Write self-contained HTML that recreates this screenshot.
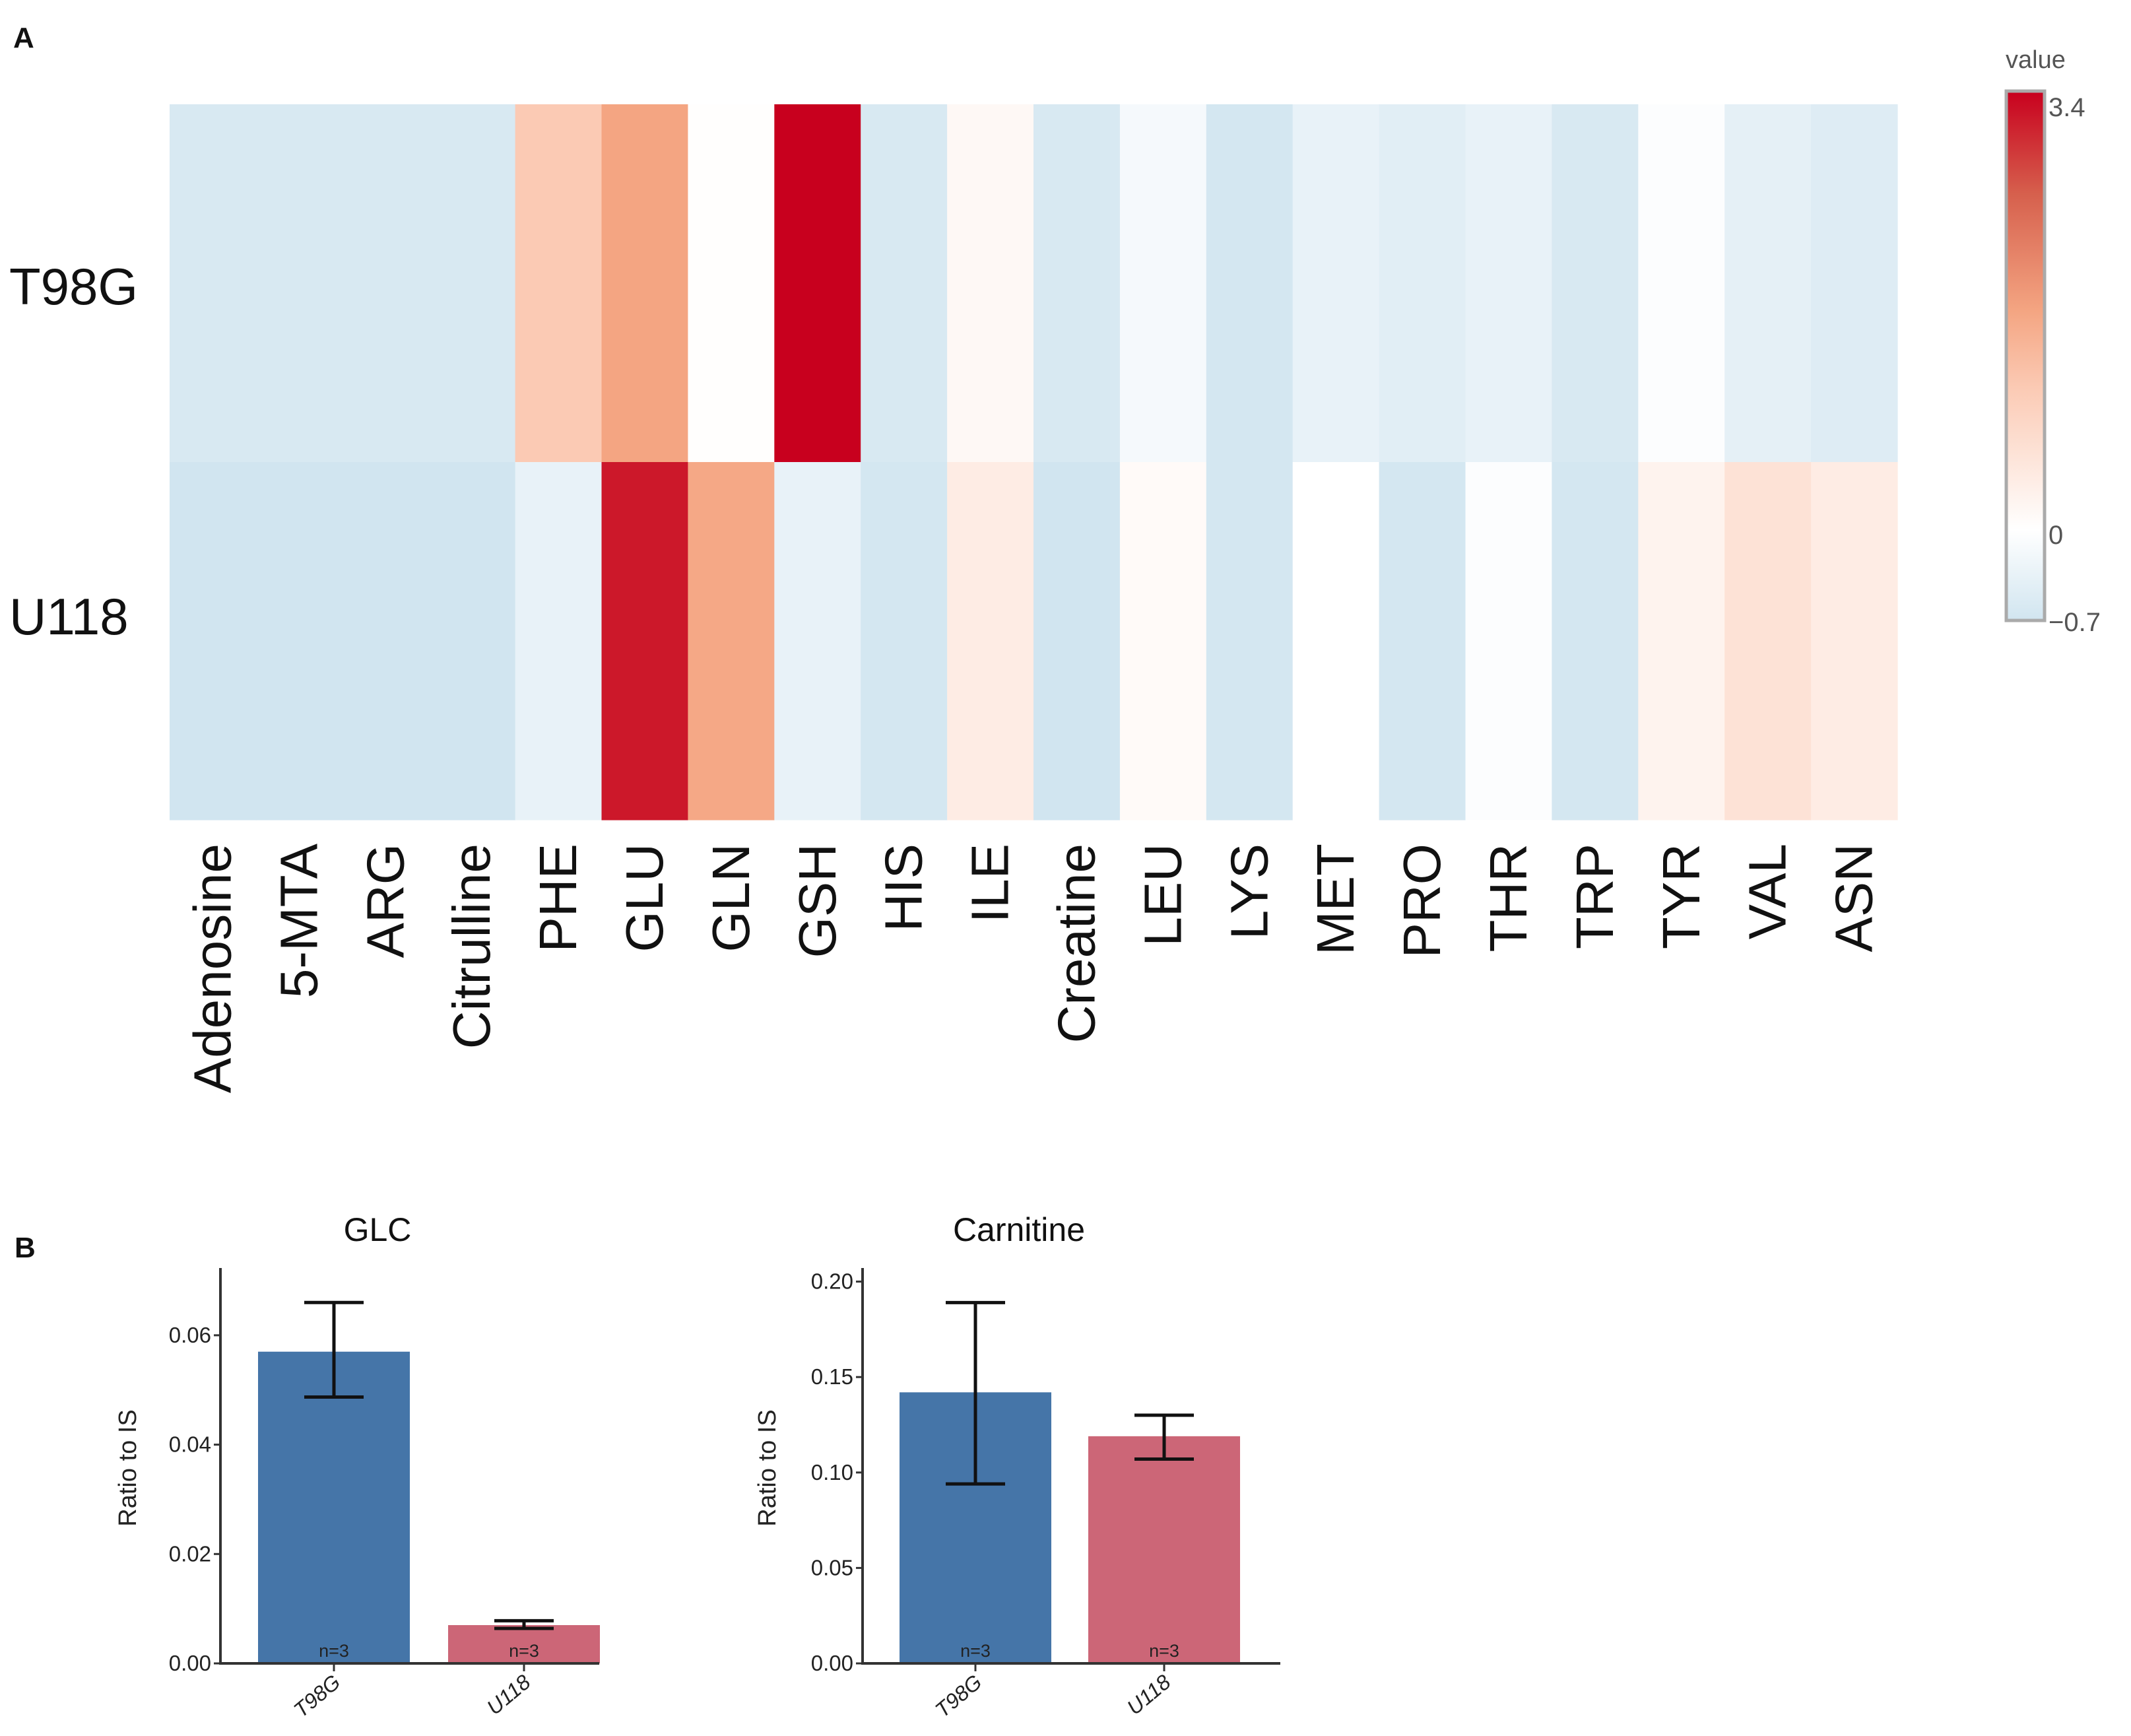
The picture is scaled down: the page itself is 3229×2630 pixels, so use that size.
<!DOCTYPE html>
<html><head><meta charset="utf-8"><style>
html,body{margin:0;padding:0;background:#fff;}
svg{display:block;font-family:"Liberation Sans",Arial,sans-serif;}
</style></head><body>
<svg id="fig" width="3229" height="2630" viewBox="0 0 3229 2630" xmlns="http://www.w3.org/2000/svg">
<defs>
<linearGradient id="cbar" x1="0" y1="1" x2="0" y2="0">
<stop offset="0" stop-color="#d1e5f0"/>
<stop offset="0.171" stop-color="#ffffff"/>
<stop offset="0.44" stop-color="#fbcab4"/>
<stop offset="0.585" stop-color="#f4a582"/>
<stop offset="0.805" stop-color="#d6604d"/>
<stop offset="1" stop-color="#c8001e"/>
</linearGradient>
</defs>
<text x="20" y="72" font-size="44" font-weight="bold" fill="#111">A</text>
<g id="heat"></g>
<g id="xlabs"></g>
<text x="14" y="461" font-size="78" fill="#111">T98G</text>
<text x="14" y="961" font-size="78" fill="#111">U118</text>
<g>
<text x="3039" y="103" font-size="38" fill="#555">value</text>
<rect x="3040" y="138" width="58" height="802" fill="url(#cbar)" stroke="#aaa" stroke-width="5"/>
<text x="3104" y="176" font-size="40" fill="#555">3.4</text>
<text x="3104" y="824" font-size="40" fill="#555">0</text>
<text x="3104" y="956" font-size="40" fill="#555">−0.7</text>
</g>
<text x="22" y="1905" font-size="44" font-weight="bold" fill="#111">B</text>
<g id="bars"></g>
</svg>
<script>
const cols = ["Adenosine","5-MTA","ARG","Citrulline","PHE","GLU","GLN","GSH","HIS","ILE","Creatine","LEU","LYS","MET","PRO","THR","TRP","TYR","VAL","ASN"];
const rowNames = ["T98G","U118"];
const valsT98G = [-0.6,-0.6,-0.6,-0.6,1.1,1.7,0.03,3.4,-0.6,0.15,-0.6,-0.15,-0.65,-0.35,-0.45,-0.35,-0.6,-0.05,-0.4,-0.5];
const valsU118 = [-0.7,-0.7,-0.7,-0.7,-0.35,3.2,1.65,-0.35,-0.65,0.4,-0.7,0.1,-0.65,0,-0.65,-0.05,-0.65,0.25,0.6,0.4];

const barGroups = ["T98G","U118"];
const glcMeans = [0.057,0.007];
const glcHi = [0.066,0.0078];
const glcLo = [0.0487,0.0064];
const glcTicks = [0,0.02,0.04,0.06];
const glcTickLabels = ["0.00","0.02","0.04","0.06"];
const carMeans = [0.142,0.119];
const carHi = [0.189,0.130];
const carLo = [0.094,0.107];
const carTicks = [0,0.05,0.10,0.15,0.20];
const carTickLabels = ["0.00","0.05","0.10","0.15","0.20"];

const NS="http://www.w3.org/2000/svg";
function mk(tag, attrs, parent){const e=document.createElementNS(NS,tag);for(const k in attrs)e.setAttribute(k,attrs[k]);parent.appendChild(e);return e;}

const stops=[[-0.7,[209,229,240]],[0,[255,255,255]],[1.1,[251,202,180]],[1.7,[244,165,130]],[2.6,[214,96,77]],[3.4,[200,0,30]]];
function color(v){
  if(v<=stops[0][0])return "rgb("+stops[0][1]+")";
  for(let i=1;i<stops.length;i++){
    if(v<=stops[i][0]){const a=stops[i-1],b=stops[i];const t=(v-a[0])/(b[0]-a[0]);
      return "rgb("+a[1].map((c,j)=>Math.round(c+(b[1][j]-c)*t)).join(",")+")";}
  }
  return "rgb("+stops[stops.length-1][1]+")";
}
const hx0=257,hx1=2875,hy0=158,hy1=1242;
const cw=(hx1-hx0)/cols.length, rh=(hy1-hy0)/rowNames.length;
const xCol=i=>hx0+i*cw, yRow=r=>hy0+r*rh;
const heat=document.getElementById('heat');
[valsT98G,valsU118].forEach((arr,r)=>{
  arr.forEach((v,i)=>{
    const c=mk('rect',{x:xCol(i),y:yRow(r),width:cw+0.6,height:rh+0.6,fill:color(v)},heat);
    
    
  });
});
const xl=document.getElementById('xlabs');
cols.forEach((n,i)=>{
  const cx=xCol(i)+cw/2+27;
  const t=mk('text',{x:0,y:0,'font-size':80,fill:'#111','text-anchor':'end',transform:'translate('+cx+',1278) rotate(-90)'},xl);
  t.textContent=n;
  
  
});

const bars=document.getElementById('bars');
function barChart(opt){
  const g=mk('g',{},bars);
  
  
  const y=v=>opt.base-v*opt.scale;
  const bx=[opt.b1,opt.b2];
  const colorsB=['#4575a8','#cc6677'];
  opt.means.forEach((m,i)=>{
    const r=mk('rect',{x:bx[i],y:y(m),width:opt.bw,height:opt.base-y(m),fill:colorsB[i]},g);
    
    
    const cx=bx[i]+opt.bw/2;
    const e=mk('path',{d:'M'+cx+' '+y(opt.hi[i])+'V'+y(opt.lo[i])+'M'+(cx-45)+' '+y(opt.hi[i])+'H'+(cx+45)+'M'+(cx-45)+' '+y(opt.lo[i])+'H'+(cx+45),stroke:'#111','stroke-width':5,fill:'none'},g);
    
    
    const n=mk('text',{x:cx,y:opt.base-10,'font-size':27,'text-anchor':'middle',fill:'#222'},g);
    n.textContent='n=3';
    
    
    mk('line',{x1:cx,y1:opt.base,x2:cx,y2:opt.base+12,stroke:'#333','stroke-width':3},g);
    const xl=mk('text',{x:0,y:0,'font-size':32,'text-anchor':'end',fill:'#222','font-style':'italic',transform:'translate('+(cx+12)+','+(opt.base+32)+') rotate(-40)'},g);
    xl.textContent=barGroups[i];
    
    
  });
  const ax=mk('path',{d:'M'+opt.ax+' 1921V'+opt.base+'H'+opt.axEnd,stroke:'#333','stroke-width':4,fill:'none'},g);
  
  
  opt.ticks.forEach((t,i)=>{
    mk('line',{x1:opt.ax-10,y1:y(t),x2:opt.ax,y2:y(t),stroke:'#333','stroke-width':3},g);
    const tl=mk('text',{x:opt.ax-14,y:y(t)+11,'font-size':33,'text-anchor':'end',fill:'#222'},g);
    tl.textContent=opt.tickLabels[i];
    
    
  });
  const yt=mk('text',{x:0,y:0,'font-size':38,'text-anchor':'middle',fill:'#222',transform:'translate('+opt.ylx+',2224) rotate(-90)'},g);
  yt.textContent='Ratio to IS';
  
  
  const tt=mk('text',{x:opt.tx,y:1880,'font-size':50,'text-anchor':'middle',fill:'#111'},g);
  tt.textContent=opt.title;
  
  
}
barChart({name:'glc-chart',title:'GLC',means:glcMeans,hi:glcHi,lo:glcLo,ticks:glcTicks,tickLabels:glcTickLabels,base:2520,scale:165.7/0.02,b1:391,b2:679,bw:230,ax:334,axEnd:908,ylx:206,tx:572});
barChart({name:'carnitine-chart',title:'Carnitine',means:carMeans,hi:carHi,lo:carLo,ticks:carTicks,tickLabels:carTickLabels,base:2520,scale:144.6/0.05,b1:1363,b2:1649,bw:230,ax:1307,axEnd:1940,ylx:1175,tx:1544});
</script>
</body></html>
